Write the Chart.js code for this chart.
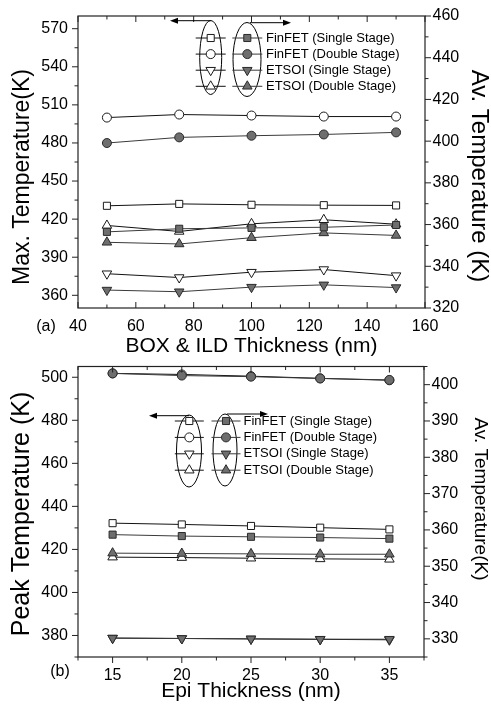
<!DOCTYPE html>
<html>
<head>
<meta charset="utf-8">
<script src="https://cdn.jsdelivr.net/npm/chart.js@4.4.1/dist/chart.umd.min.js"></script>
<style>
  html, body { margin: 0; padding: 0; background: #fff; }
  #wrap { position: relative; width: 491px; height: 706px; overflow: hidden; }
  #chart_a { position: absolute; left: 0; top: 0; }
  #chart_b { position: absolute; left: 0; top: 360px; }
</style>
</head>
<body>
<div id="wrap">
  <canvas id="chart_a" width="491" height="360"></canvas>
  <canvas id="chart_b" width="491" height="346"></canvas>
</div>
<script>
// panel (a): BOX & ILD thickness sweep
const aThickness = [50, 75, 100, 125, 150]
const aFinSingleMax = [430.5, 432, 431.3, 431, 430.8]
const aFinDoubleMax = [500, 502.4, 501.6, 500.8, 500.8]
const aEtsoiSingleMax = [377, 374, 378.2, 380.3, 375.5]
const aEtsoiDoubleMax = [415, 410.3, 416.3, 419.5, 416]
const aFinSingleAv = [356.5, 358, 358.4, 358.7, 359.8]
const aFinDoubleAv = [399.1, 401.8, 402.6, 403.2, 404.2]
const aEtsoiSingleAv = [328.6, 327.8, 330, 331.1, 329.8]
const aEtsoiDoubleAv = [351.5, 350.7, 353.7, 356, 354.8]
const aXTicks = [40, 60, 80, 100, 120, 140, 160]
const aLeftTicks = [360, 390, 420, 450, 480, 510, 540, 570]
const aRightTicks = [320, 340, 360, 380, 400, 420, 440, 460]

// panel (b): Epi thickness sweep
const bThickness = [15, 20, 25, 30, 35]
const bFinSingleMax = [432.2, 431.6, 430.9, 430.1, 429.3]
const bFinDoubleMax = [501.8, 501.3, 500.5, 499.5, 498.6]
const bEtsoiSingleMax = [378.8, 378.6, 378.4, 378.2, 378]
const bEtsoiDoubleMax = [416.4, 416.2, 415.9, 415.6, 415.4]
const bFinSingleAv = [358.7, 358.3, 358.1, 357.9, 357.6]
const bFinDoubleAv = [403.1, 402.5, 402.2, 401.7, 401.3]
const bEtsoiSingleAv = [330.2, 330.1, 330, 329.9, 329.9]
const bEtsoiDoubleAv = [353.6, 353.5, 353.4, 353.3, 353.3]
const bXTicks = [15, 20, 25, 30, 35]
const bLeftTicks = [380, 400, 420, 440, 460, 480, 500]
const bRightTicks = [330, 340, 350, 360, 370, 380, 390, 400]

const legendLabels = ['FinFET (Single Stage)', 'FinFET (Double Stage)', 'ETSOI (Single Stage)', 'ETSOI (Double Stage)']

const FONT = '"Liberation Sans", Arial, sans-serif'
Chart.defaults.font.family = FONT
Chart.defaults.color = '#000'

const markers = [
    { pointStyle: 'rect', radius: 5, rotation: 0 },
    { pointStyle: 'circle', radius: 4.5, rotation: 0 },
    { pointStyle: 'triangle', radius: 5.5, rotation: 180 },
    { pointStyle: 'triangle', radius: 5.5, rotation: 0 },
]
const OPEN = { fill: '#ffffff', edge: '#1a1a1a', line: '#111111', order: 1 }
const FILLED = { fill: '#6e6e6e', edge: '#2a2a2a', line: '#3a3a3a', order: 0 }

function makeSet(label, xs, ys, axis, marker, look) {
    return {
        label: label,
        data: xs.map((x, i) => ({ x: x, y: ys[i] })),
        yAxisID: axis,
        order: look.order,
        borderColor: look.line,
        borderWidth: 1,
        pointStyle: marker.pointStyle,
        pointRadius: marker.radius,
        pointRotation: marker.rotation,
        pointBackgroundColor: look.fill,
        pointBorderColor: look.edge,
        pointBorderWidth: 1,
        tension: 0,
        fill: false,
    }
}

function buildSets(xs, maxSeries, avSeries) {
    let sets = []
    for (let i = 0; i < 4; i++) sets.push(makeSet(legendLabels[i], xs, maxSeries[i], 'yL', markers[i], OPEN))
    for (let i = 0; i < 4; i++) sets.push(makeSet(legendLabels[i], xs, avSeries[i], 'yR', markers[i], FILLED))
    return sets
}

function fixBox(w, h) {
    return (s) => {
        if (w !== null) s.width = w
        if (h !== null) s.height = h
        s.paddingTop = 0
        s.paddingBottom = 0
        s.paddingLeft = 0
        s.paddingRight = 0
    }
}

function xScale(min, max, ticks, title, height, padBottom) {
    return {
        type: 'linear', position: 'bottom', min: min, max: max,
        afterBuildTicks: (s) => { s.ticks = ticks.map(v => ({ value: v })) },
        afterFit: fixBox(null, height),
        grid: { display: false, drawTicks: false },
        border: { display: false },
        ticks: { padding: 9, font: { size: 16 }, color: '#000' },
        title: { display: true, text: title, font: { size: 21 }, padding: { top: 0, bottom: padBottom } },
    }
}

// y titles are drawn by the frame plugin (they sit off-centre in the original)
function yScale(position, min, max, ticks, width, tickPad) {
    return {
        type: 'linear', position: position, min: min, max: max,
        afterBuildTicks: (s) => { s.ticks = ticks.map(v => ({ value: v })) },
        afterFit: fixBox(width, null),
        grid: { display: false, drawTicks: false },
        border: { display: false },
        ticks: { padding: tickPad, font: { size: 16 }, color: '#000' },
    }
}

function arrow(ctx, x0, y, x1) {
    const dir = Math.sign(x1 - x0)
    ctx.beginPath()
    ctx.moveTo(x0, y)
    ctx.lineTo(x1 - dir * 5, y)
    ctx.stroke()
    ctx.beginPath()
    ctx.moveTo(x1, y)
    ctx.lineTo(x1 - dir * 8, y - 3)
    ctx.lineTo(x1 - dir * 8, y + 3)
    ctx.closePath()
    ctx.fill()
}

// frame, inward/outward tick marks, y titles, ellipse legend and panel tag
const framePlugin = {
    id: 'frame',
    afterDatasetsDraw(chart, args, opts) {
        const ctx = chart.ctx
        const { left, right, top, bottom } = chart.chartArea
        const sx = chart.scales.x, yl = chart.scales.yL, yr = chart.scales.yR
        ctx.save()
        ctx.strokeStyle = '#222'
        ctx.lineWidth = 1.2
        ctx.strokeRect(left, top, right - left, bottom - top)

        const minors = (s) => {
            const t = s.ticks.map(k => k.value)
            const half = (t[1] - t[0]) / 2
            let out = []
            for (let v = t[0] - half; v <= s.max + 1e-9; v += 2 * half)
                if (v >= s.min - 1e-9) out.push(v)
            return out
        }

        ctx.lineWidth = 1
        ctx.beginPath()
        const xMark = (v, len) => {
            const px = sx.getPixelForValue(v)
            ctx.moveTo(px, bottom)
            ctx.lineTo(px, bottom + (opts.xInward ? -len : len))
            ctx.moveTo(px, top)
            ctx.lineTo(px, top + len)
        }
        sx.ticks.forEach(k => xMark(k.value, 6))
        minors(sx).forEach(v => xMark(v, 3.5))
        const yMark = (s, v, len, edge, dir) => {
            const py = s.getPixelForValue(v)
            ctx.moveTo(edge, py)
            ctx.lineTo(edge + dir * len, py)
        }
        yl.ticks.forEach(k => yMark(yl, k.value, 6, left, -1))
        minors(yl).forEach(v => yMark(yl, v, 3.5, left, -1))
        yr.ticks.forEach(k => yMark(yr, k.value, 6, right, 1))
        minors(yr).forEach(v => yMark(yr, v, 3.5, right, 1))
        ctx.stroke()

        // rotated axis titles
        ctx.fillStyle = '#000'
        ctx.textAlign = 'center'
        ctx.textBaseline = 'middle'
        opts.yTitles.forEach(t => {
            ctx.save()
            ctx.translate(t.x, t.y)
            ctx.rotate(t.rot * Math.PI / 180)
            ctx.font = `${t.size}px ${FONT}`
            ctx.fillText(t.text, 0, 0)
            ctx.restore()
        })

        // legend
        const lg = opts.legend
        ctx.strokeStyle = '#000'
        ctx.fillStyle = '#000'
        ctx.lineWidth = 1
        lg.ellipses.forEach(e => {
            ctx.beginPath()
            ctx.ellipse(e[0], e[1], e[2], e[3], 0, 0, 2 * Math.PI)
            ctx.stroke()
        })
        lg.arrows.forEach(a => arrow(ctx, a[0], a[1], a[2]))

        const sets = chart.data.datasets
        ctx.font = `13px ${FONT}`
        ctx.textAlign = 'left'
        legendLabels.forEach((txt, i) => {
            const y = lg.y0 + i * lg.dy
            const pair = [[sets[i], lg.openX], [sets[i + 4], lg.filledX]]
            pair.forEach(([ds, cx]) => {
                ctx.strokeStyle = ds.borderColor
                ctx.lineWidth = 1
                ctx.beginPath()
                ctx.moveTo(cx - lg.half, y)
                ctx.lineTo(cx + lg.half, y)
                ctx.stroke()
                ctx.fillStyle = ds.pointBackgroundColor
                ctx.strokeStyle = ds.pointBorderColor
                Chart.helpers.drawPoint(ctx, {
                    pointStyle: ds.pointStyle, rotation: ds.pointRotation,
                    radius: ds.pointRadius, borderWidth: 1
                }, cx, y)
            })
            ctx.fillStyle = '#000'
            ctx.fillText(txt, lg.textX, y)
        })

        ctx.font = `16px ${FONT}`
        ctx.textAlign = 'center'
        ctx.fillText(opts.tag.text, opts.tag.x, opts.tag.y)
        ctx.restore()
    }
}

new Chart(document.getElementById('chart_a'), {
    type: 'line',
    data: {
        datasets: buildSets(aThickness,
            [aFinSingleMax, aFinDoubleMax, aEtsoiSingleMax, aEtsoiDoubleMax],
            [aFinSingleAv, aFinDoubleAv, aEtsoiSingleAv, aEtsoiDoubleAv])
    },
    options: {
        responsive: false,
        animation: false,
        layout: { padding: { top: 16, left: 0, right: 0, bottom: 0 } },
        plugins: {
            legend: { display: false },
            tooltip: { enabled: false },
            frame: {
                xInward: true,
                tag: { text: '(a)', x: 46, y: 327 },
                yTitles: [
                    { text: 'Max. Temperature(K)', x: 23, y: 177, size: 23, rot: -90 },
                    { text: 'Av. Temperature (K)', x: 479, y: 176, size: 24, rot: 90 },
                ],
                legend: {
                    openX: 210.7, filledX: 247.3, half: 15, y0: 38, dy: 16.1, textX: 266,
                    ellipses: [[210.7, 57.5, 11, 37], [247, 59.5, 14, 37]],
                    arrows: [[211, 20.7, 170], [250, 22.7, 291]],
                },
            },
        },
        scales: {
            x: xScale(40, 160, aXTicks, 'BOX & ILD Thickness (nm)', 52, 1.4),
            yL: yScale('left', 350, 580, aLeftTicks, 78, 10),
            yR: yScale('right', 320, 460, aRightTicks, 66, 7.5),
        },
    },
    plugins: [framePlugin],
})

new Chart(document.getElementById('chart_b'), {
    type: 'line',
    data: {
        datasets: buildSets(bThickness,
            [bFinSingleMax, bFinDoubleMax, bEtsoiSingleMax, bEtsoiDoubleMax],
            [bFinSingleAv, bFinDoubleAv, bEtsoiSingleAv, bEtsoiDoubleAv])
    },
    options: {
        responsive: false,
        animation: false,
        layout: { padding: { top: 5, left: 0, right: 0, bottom: 0 } },
        plugins: {
            legend: { display: false },
            tooltip: { enabled: false },
            frame: {
                xInward: false,
                tag: { text: '(b)', x: 60, y: 312 },
                yTitles: [
                    { text: 'Peak Temperature (K)', x: 22.5, y: 154, size: 25, rot: -90 },
                    { text: 'Av. Temperature(K)', x: 480, y: 139, size: 19, rot: 90 },
                ],
                legend: {
                    openX: 189.3, filledX: 226, half: 14.5, y0: 61, dy: 16.4, textX: 243.5,
                    ellipses: [[189, 91, 12.5, 36], [225, 90, 12, 36]],
                    arrows: [[189, 55.7, 149], [227, 54, 268]],
                },
            },
        },
        scales: {
            x: xScale(12.5, 37.5, bXTicks, 'Epi Thickness (nm)', 49, 1.7),
            yL: yScale('left', 370, 505, bLeftTicks, 78, 10),
            yR: yScale('right', 325, 405, bRightTicks, 67, 7.5),
        },
    },
    plugins: [framePlugin],
})
</script>
</body>
</html>
